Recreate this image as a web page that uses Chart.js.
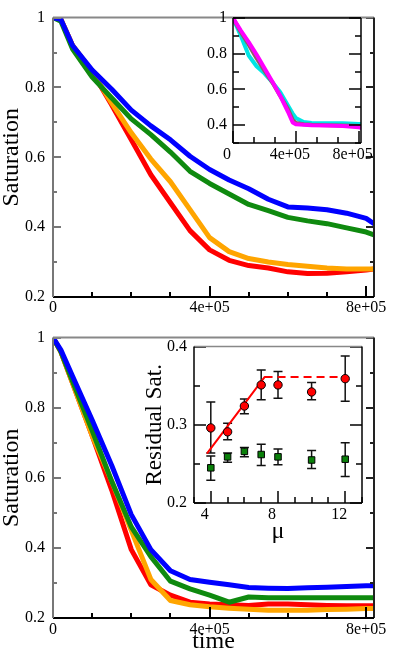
<!DOCTYPE html>
<html>
<head>
<meta charset="utf-8">
<script src="https://cdn.jsdelivr.net/npm/chart.js@4.4.0/dist/chart.umd.min.js"></script>
<style>
html, body { margin: 0; padding: 0; background: #fff; width: 393px; height: 664px; overflow: hidden; }
canvas { position: absolute; }
</style>
</head>
<body>
<canvas id="topMain" width="393" height="320" style="left:0;top:0"></canvas>
<canvas id="topInset" width="203" height="170" style="left:190px;top:0"></canvas>
<canvas id="botMain" width="393" height="344" style="left:0;top:320px"></canvas>
<canvas id="botInset" width="258" height="220" style="left:135px;top:330px"></canvas>
<script>
// time samples shared by the two main panels
var timeMain = [0, 20000, 50000, 100000, 150000, 200000, 250000, 300000, 350000, 400000,
                450000, 500000, 550000, 600000, 650000, 700000, 750000, 800000, 820000];

// upper panel
var topBlue   = [1, 0.995, 0.92, 0.85, 0.795, 0.735, 0.69, 0.65, 0.603, 0.565, 0.535, 0.51, 0.48, 0.458, 0.455, 0.45, 0.44, 0.425, 0.41];
var topGreen  = [1, 0.99, 0.91, 0.83, 0.77, 0.71, 0.665, 0.615, 0.56, 0.525, 0.495, 0.465, 0.447, 0.428, 0.418, 0.41, 0.398, 0.386, 0.378];
var topOrange = [1, 0.995, 0.92, 0.845, 0.755, 0.67, 0.595, 0.53, 0.45, 0.37, 0.33, 0.31, 0.3, 0.293, 0.288, 0.283, 0.28, 0.28, 0.28];
var topRed    = [1, 0.995, 0.92, 0.845, 0.75, 0.65, 0.55, 0.47, 0.39, 0.335, 0.305, 0.29, 0.283, 0.272, 0.267, 0.268, 0.272, 0.277, 0.28];

// upper inset
var timeInset    = [0, 50000, 100000, 150000, 200000, 250000, 300000, 350000, 380000, 400000, 450000, 500000, 600000, 700000, 800000, 815000];
var insetCyan    = [1, 0.9, 0.79, 0.73, 0.69, 0.64, 0.585, 0.51, 0.465, 0.44, 0.418, 0.412, 0.41, 0.41, 0.407, 0.407];
var insetBrown   = [1, 0.92, 0.85, 0.775, 0.705, 0.64, 0.565, 0.49, 0.43, 0.412, 0.405, 0.402, 0.4, 0.398, 0.395, 0.395];
var insetMagenta = [1, 0.93, 0.865, 0.795, 0.72, 0.645, 0.565, 0.475, 0.415, 0.405, 0.402, 0.4, 0.398, 0.395, 0.388, 0.385];

// lower panel
var botBlue   = [1, 0.965, 0.89, 0.765, 0.635, 0.495, 0.395, 0.335, 0.31, 0.302, 0.295, 0.287, 0.285, 0.284, 0.286, 0.288, 0.29, 0.292, 0.292];
var botGreen  = [1, 0.96, 0.875, 0.735, 0.59, 0.46, 0.375, 0.305, 0.283, 0.265, 0.245, 0.26, 0.258, 0.258, 0.258, 0.258, 0.258, 0.258, 0.258];
var botOrange = [1, 0.96, 0.87, 0.72, 0.59, 0.45, 0.31, 0.25, 0.238, 0.232, 0.228, 0.225, 0.222, 0.222, 0.222, 0.224, 0.225, 0.227, 0.227];
var botRed    = [1, 0.96, 0.87, 0.72, 0.565, 0.395, 0.295, 0.265, 0.245, 0.24, 0.238, 0.236, 0.24, 0.24, 0.238, 0.236, 0.235, 0.235, 0.235];

// lower inset: residual saturation vs mu
var mu       = [4, 5, 6, 7, 8, 10, 12];
var redSat   = [0.296, 0.291, 0.324, 0.351, 0.351, 0.342, 0.359];
var redLo    = [0.264, 0.281, 0.314, 0.332, 0.334, 0.332, 0.330];
var redHi    = [0.329, 0.302, 0.333, 0.370, 0.368, 0.354, 0.388];
var greenSat = [0.245, 0.259, 0.266, 0.262, 0.259, 0.255, 0.256];
var greenLo  = [0.229, 0.252, 0.259, 0.248, 0.249, 0.244, 0.234];
var greenHi  = [0.260, 0.264, 0.271, 0.275, 0.269, 0.267, 0.277];
var fitMu = [3.8, 7.2], fitSat = [0.264, 0.361];
var plateauMu = [7.2, 12.1], plateauSat = [0.361, 0.361];

// tick labels
var timeTicks = [0, 400000, 800000], timeTickText = ['0', '4e+05', '8e+05'];
var satTicks = [0.2, 0.4, 0.6, 0.8, 1], satTickText = ['0.2', '0.4', '0.6', '0.8', '1'];
var insetSatTicks = [0.4, 0.6, 0.8, 1], insetSatText = ['0.4', '0.6', '0.8', '1'];
var resTicks = [0.2, 0.3, 0.4], resTickText = ['0.2', '0.3', '0.4'];
var muTicks = [4, 8, 12], muTickText = ['4', '8', '12'];

var FONT = "'Liberation Serif', 'Times New Roman', serif";

function pts(xs, ys) {
    return xs.map(function (v, i) { return {x: v, y: ys[i]}; });
}

// frame with inward ticks (grace style)
var framePlugin = {
    id: 'frame',
    beforeDraw: function (chart, args, o) {
        if (!o.fill) return;
        var a = chart.chartArea;
        chart.ctx.fillStyle = o.fill;
        chart.ctx.fillRect(a.left, a.top, a.right - a.left, a.bottom - a.top);
    },
    afterDatasetsDraw: function (chart, args, o) {
        var ctx = chart.ctx, a = chart.chartArea, x = chart.scales.x, y = chart.scales.y;
        ctx.save();
        ctx.lineWidth = o.width;
        function seg(x1, y1, x2, y2, c) {
            ctx.strokeStyle = c;
            ctx.beginPath(); ctx.moveTo(x1, y1); ctx.lineTo(x2, y2); ctx.stroke();
        }
        function marks(sc, step) {
            var out = [], majors = sc.ticks.map(function (t) { return t.value; });
            for (var v = Math.ceil(sc.min / step - 1e-6) * step; v <= sc.max + 1e-9; v += step) {
                var major = majors.some(function (m) { return Math.abs(m - v) < step * 0.01; });
                out.push({p: Math.round(sc.getPixelForValue(v)), major: major});
            }
            return out;
        }
        marks(x, o.xStep).forEach(function (m) {
            var L = m.major ? o.xMajor : o.xMinor;
            seg(m.p, a.bottom, m.p, a.bottom - L, o.c.bottom);
        });
        marks(y, o.yStep).forEach(function (m) {
            var L = m.major ? o.yMajor : o.yMinor;
            seg(a.left, m.p, a.left + L, m.p, o.c.left);
            seg(a.right, m.p, a.right - L, m.p, o.c.right);
        });
        seg(a.left, a.top, a.right, a.top, o.c.top);
        seg(a.right, a.top, a.right, a.bottom, o.c.right);
        seg(a.left, a.bottom, a.right, a.bottom, o.c.bottom);
        seg(a.left, a.top, a.left, a.bottom, o.c.left);
        ctx.restore();
    }
};

// vertical error bars with caps
var errorBars = {
    id: 'errorBars',
    beforeDatasetsDraw: function (chart) {
        var ctx = chart.ctx, x = chart.scales.x, y = chart.scales.y;
        ctx.save();
        ctx.strokeStyle = '#111';
        ctx.lineWidth = 1.5;
        chart.data.datasets.forEach(function (ds) {
            if (!ds.errLo) return;
            ds.data.forEach(function (p, i) {
                var px = x.getPixelForValue(p.x);
                var lo = y.getPixelForValue(ds.errLo[i]), hi = y.getPixelForValue(ds.errHi[i]);
                ctx.beginPath();
                ctx.moveTo(px, lo); ctx.lineTo(px, hi);
                ctx.moveTo(px - 4.5, lo); ctx.lineTo(px + 4.5, lo);
                ctx.moveTo(px - 4.5, hi); ctx.lineTo(px + 4.5, hi);
                ctx.stroke();
            });
        });
        ctx.restore();
    }
};

function tickAxis(opts) {
    var ax = {
        type: 'linear', min: opts.min, max: opts.max,
        afterBuildTicks: function (s) { s.ticks = opts.ticks.map(function (v) { return {value: v}; }); },
        ticks: {
            autoSkip: false, maxRotation: 0, color: '#000', padding: opts.pad,
            labelOffset: opts.labelOffset || 0,
            font: {family: FONT, size: opts.fontSize || 16},
            callback: function (v, i) { return opts.text[i]; }
        },
        grid: {display: false, drawTicks: false},
        border: {display: false},
        afterFit: opts.fit
    };
    if (opts.title) {
        ax.title = {display: true, text: opts.title, color: '#000',
            font: {family: FONT, size: opts.titleSize || 24, lineHeight: 1},
            padding: opts.titlePad};
    }
    return ax;
}

function lineSet(xs, ys, color, w) {
    return {data: pts(xs, ys), showLine: true, borderColor: color, backgroundColor: color,
        borderWidth: w, pointRadius: 0, tension: 0, borderJoinStyle: 'round', borderCapStyle: 'round'};
}

function baseOptions(pad, scales, frame) {
    return {
        responsive: false, animation: false, events: [],
        layout: {padding: pad},
        plugins: {legend: {display: false}, tooltip: {enabled: false}, frame: frame},
        scales: scales
    };
}

// upper main panel
new Chart(document.getElementById('topMain'), {
    type: 'scatter',
    data: {datasets: [
        lineSet(timeMain, topBlue, '#0000ff', 5),
        lineSet(timeMain, topGreen, '#0f8a0f', 5),
        lineSet(timeMain, topOrange, '#ffa500', 5),
        lineSet(timeMain, topRed, '#ff0000', 5)
    ]},
    options: baseOptions({left: 0, top: 9, right: 19, bottom: 0}, {
        x: tickAxis({min: 0, max: 820000, ticks: timeTicks, text: timeTickText, pad: 1,
            fit: function (s) { s.height = 23; }}),
        y: tickAxis({min: 0.2, max: 1, ticks: satTicks, text: satTickText, pad: 8,
            title: 'Saturation', titlePad: {top: 0, bottom: 0},
            fit: function (s) { s.width = 53; }})
    }, {width: 2, xStep: 100000, yStep: 0.1, xMajor: 11, xMinor: 5, yMajor: 8, yMinor: 4,
        c: {left: '#777', top: '#888', right: '#222', bottom: '#000'}}),
    plugins: [framePlugin]
});

// upper inset
new Chart(document.getElementById('topInset'), {
    type: 'scatter',
    data: {datasets: [
        lineSet(timeInset, insetMagenta, '#ff00ff', 4),
        lineSet(timeInset, insetBrown, '#8a6464', 4),
        lineSet(timeInset, insetCyan, '#00e5e5', 4)
    ]},
    options: baseOptions({left: 0, top: 18, right: 32, bottom: 0}, {
        x: tickAxis({min: 0, max: 815000, ticks: timeTicks, text: timeTickText, pad: 2, labelOffset: -6,
            fit: function (s) { s.height = 27; }}),
        y: tickAxis({min: 0.3, max: 1, ticks: insetSatTicks, text: insetSatText, pad: 6,
            fit: function (s) { s.width = 43; }})
    }, {width: 1.5, fill: '#fff', xStep: 400000 / 3, yStep: 0.1, xMajor: 12, xMinor: 6, yMajor: 12, yMinor: 6,
        c: {left: '#000', top: '#000', right: '#000', bottom: '#000'}}),
    plugins: [framePlugin]
});

// lower main panel
new Chart(document.getElementById('botMain'), {
    type: 'scatter',
    data: {datasets: [
        lineSet(timeMain, botBlue, '#0000ff', 5),
        lineSet(timeMain, botGreen, '#0f8a0f', 5),
        lineSet(timeMain, botOrange, '#ffa500', 5),
        lineSet(timeMain, botRed, '#ff0000', 5)
    ]},
    options: baseOptions({left: 0, top: 9, right: 19, bottom: 0}, {
        x: tickAxis({min: 0, max: 820000, ticks: timeTicks, text: timeTickText, pad: 2,
            title: 'time', titlePad: {top: 0, bottom: 10},
            fit: function (s) { s.height = 46; }}),
        y: tickAxis({min: 0.2, max: 1, ticks: satTicks, text: satTickText, pad: 8,
            title: 'Saturation', titlePad: {top: 0, bottom: 0},
            fit: function (s) { s.width = 53; }})
    }, {width: 2, xStep: 100000, yStep: 0.1, xMajor: 11, xMinor: 5, yMajor: 8, yMinor: 4,
        c: {left: '#777', top: '#888', right: '#222', bottom: '#000'}}),
    plugins: [framePlugin]
});

// lower inset
new Chart(document.getElementById('botInset'), {
    type: 'scatter',
    data: {datasets: [
        {data: pts(mu, redSat), errLo: redLo, errHi: redHi, pointStyle: 'circle', pointRadius: 4.2,
            backgroundColor: '#ff0000', borderColor: '#000', pointBorderWidth: 1},
        {data: pts(mu, greenSat), errLo: greenLo, errHi: greenHi, pointStyle: 'rect', pointRadius: 4.6,
            backgroundColor: '#0a800a', borderColor: '#000', pointBorderWidth: 1},
        lineSet(fitMu, fitSat, '#ff0000', 2),
        Object.assign(lineSet(plateauMu, plateauSat, '#ff0000', 2), {borderDash: [8, 5], borderCapStyle: 'butt'})
    ]},
    options: baseOptions({left: 0, top: 13, right: 31, bottom: 0}, {
        x: tickAxis({min: 3, max: 13, ticks: muTicks, text: muTickText, pad: 2, labelOffset: -6,
            title: 'μ', titlePad: {top: 0, bottom: 6},
            fit: function (s) { s.height = 47; }}),
        y: tickAxis({min: 0.2, max: 0.4, ticks: resTicks, text: resTickText, pad: 7,
            title: 'Residual Sat.', titleSize: 23, titlePad: {top: 8, bottom: 0},
            fit: function (s) { s.width = 59; }})
    }, {width: 1.5, fill: '#fff', xStep: 1, yStep: 0.05, xMajor: 12, xMinor: 6, yMajor: 12, yMinor: 6,
        c: {left: '#000', top: '#888', right: '#000', bottom: '#000'}}),
    plugins: [framePlugin, errorBars]
});
</script>
</body>
</html>
